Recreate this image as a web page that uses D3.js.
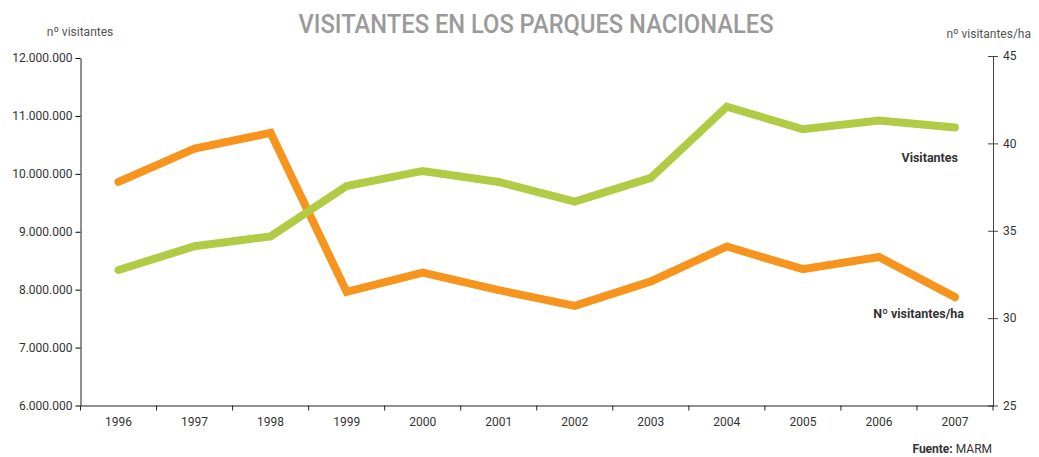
<!DOCTYPE html>
<html lang="es">
<head>
<meta charset="utf-8">
<script src="https://d3js.org/d3.v7.min.js"></script>
<style>
  body { margin: 0; background: #fff; }
  text { font-family: Roboto, "Liberation Sans", sans-serif; }
</style>
</head>
<body>
<script>
  var years = ["1996", "1997", "1998", "1999", "2000", "2001", "2002", "2003", "2004", "2005", "2006", "2007"];
  // visitantes (left axis)
  var visitantes = [8340000, 8750000, 8920000, 9790000, 10050000, 9860000, 9520000, 9930000, 11160000, 10770000, 10920000, 10800000];
  // visitantes por hectarea (right axis)
  var porHa = [37.8, 39.7, 40.6, 31.5, 32.6, 31.6, 30.7, 32.1, 34.1, 32.8, 33.5, 31.2];
  var leftTicks = [6000000, 7000000, 8000000, 9000000, 10000000, 11000000, 12000000];
  var rightTicks = [25, 30, 35, 40, 45];

  var width = 1039, height = 457;
  var xLeft = 80.5, xRight = 993, yTop = 58, yBottom = 405.5;

  var svg = d3.select("body").append("svg")
      .attr("width", width)
      .attr("height", height);

  var es = d3.formatLocale({ decimal: ",", thousands: ".", grouping: [3], currency: ["", "€"] });
  var fmt = es.format(",d");

  var x = d3.scaleBand().domain(years).range([xLeft, xRight]);
  var yL = d3.scaleLinear().domain([6000000, 12000000]).range([yBottom, yTop]);
  var yR = d3.scaleLinear().domain([25, 45]).range([yBottom, 56]);

  // title
  svg.append("text")
      .attr("x", 536).attr("y", 33)
      .attr("text-anchor", "middle")
      .attr("font-size", 26)
      .attr("font-weight", 500)
      .attr("fill", "#9a9a9a")
      .attr("textLength", 475)
      .attr("lengthAdjust", "spacingAndGlyphs")
      .text("VISITANTES EN LOS PARQUES NACIONALES");

  svg.append("text")
      .attr("x", 80).attr("y", 36)
      .attr("text-anchor", "middle")
      .attr("font-size", 12)
      .attr("fill", "#555")
      .text("nº visitantes");

  svg.append("text")
      .attr("x", 1031).attr("y", 38)
      .attr("text-anchor", "end")
      .attr("font-size", 12)
      .attr("fill", "#555")
      .text("nº visitantes/ha");

  // left axis
  var gL = svg.append("g")
      .attr("transform", "translate(" + xLeft + ",0)")
      .call(d3.axisLeft(yL).tickValues(leftTicks).tickFormat(fmt).tickSize(5).tickSizeOuter(0));
  gL.select(".domain").attr("stroke", "#222");
  gL.selectAll("text").attr("font-size", 12).attr("fill", "#333").attr("x", -8)
      .style("font-family", "Roboto, sans-serif");

  // right axis, ticks cross the line
  var gR = svg.append("g")
      .attr("transform", "translate(" + xRight + ",0)")
      .call(d3.axisRight(yR).tickValues(rightTicks).tickSize(5).tickSizeOuter(0));
  gR.select(".domain").attr("stroke", "#444");
  gR.selectAll(".tick line").attr("x1", -5).attr("stroke", "#444");
  gR.selectAll("text").attr("font-size", 12).attr("fill", "#333").attr("x", 10)
      .style("font-family", "Roboto, sans-serif");

  // bottom axis
  var gB = svg.append("g")
      .attr("transform", "translate(0," + yBottom + ")")
      .call(d3.axisBottom(x).tickSize(0).tickSizeOuter(0).tickPadding(12));
  gB.select(".domain").attr("stroke", "#222");
  gB.selectAll("text").attr("font-size", 12).attr("fill", "#333")
      .style("font-family", "Roboto, sans-serif");
  gB.selectAll(".edge").data(years.map(function (d) { return x(d); }).concat([x.range()[1]]))
    .enter().append("line")
      .attr("x1", function (d) { return d; })
      .attr("x2", function (d) { return d; })
      .attr("y1", 0).attr("y2", 5)
      .attr("stroke", "#222");

  var cx = function (d, i) { return x(years[i]) + x.bandwidth() / 2; };

  var lineR = d3.line().x(cx).y(function (d) { return yR(d); });
  var lineL = d3.line().x(cx).y(function (d) { return yL(d); });

  svg.append("path")
      .datum(porHa)
      .attr("d", lineR)
      .attr("fill", "none")
      .attr("stroke", "#f7941e")
      .attr("stroke-width", 8)
      .attr("stroke-linecap", "round");

  svg.append("path")
      .datum(visitantes)
      .attr("d", lineL)
      .attr("fill", "none")
      .attr("stroke", "#b2cb45")
      .attr("stroke-width", 8)
      .attr("stroke-linecap", "round");

  svg.append("text")
      .attr("x", 958).attr("y", 162)
      .attr("text-anchor", "end")
      .attr("font-size", 12.5)
      .attr("font-weight", "bold")
      .attr("fill", "#333")
      .text("Visitantes");

  svg.append("text")
      .attr("x", 964).attr("y", 318)
      .attr("text-anchor", "end")
      .attr("font-size", 12.5)
      .attr("font-weight", "bold")
      .attr("fill", "#333")
      .text("Nº visitantes/ha");

  var src = svg.append("text")
      .attr("x", 992).attr("y", 453)
      .attr("text-anchor", "end")
      .attr("font-size", 12)
      .attr("fill", "#333");
  src.append("tspan").attr("font-weight", "bold").text("Fuente: ");
  src.append("tspan").text("MARM");
</script>
</body>
</html>
